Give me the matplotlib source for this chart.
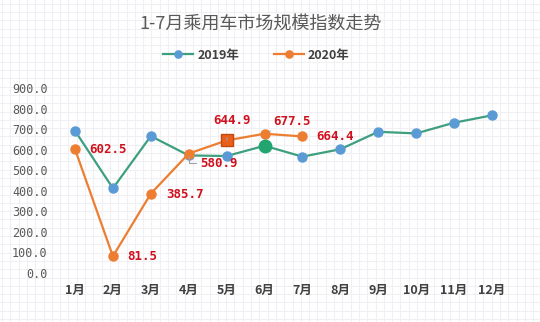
import numpy as np
import matplotlib.pyplot as plt

plt.rcParams['font.family'] = ['Noto Sans CJK SC', 'DejaVu Sans']

months = ["1月", "2月", "3月", "4月", "5月", "6月", "7月", "8月", "9月", "10月", "11月", "12月"]
idx_2019 = [692, 412, 666, 572, 569, 619, 566, 602, 687, 679, 731, 767]
idx_2020 = [602.5, 81.5, 385.7, 580.9, 644.9, 677.5, 664.4]
y_ticks = [0, 100, 200, 300, 400, 500, 600, 700, 800, 900]

green = "#3E9F7F"
blue = "#5B9BD5"
orange = "#ED7D31"
red = "#D0101C"

fig = plt.figure(figsize=(5.4, 3.22), dpi=100)

# graph-paper background
bg = fig.add_axes([0, 0, 1, 1], zorder=-1)
bg.set_xlim(0, 540)
bg.set_ylim(0, 322)
for gx in np.arange(2, 540, 8.3):
    bg.axvline(gx, color="#f0f0f4", lw=0.8)
for gy in np.arange(3, 322, 8.3):
    bg.axhline(gy, color="#f0f0f4", lw=0.8)
bg.axis("off")

ax = fig.add_axes([37.1 / 540, 49 / 322, 492.7 / 540, 185 / 322])
ax.patch.set_alpha(0)
x19 = np.arange(1, len(idx_2019) + 1)
x20 = np.arange(1, len(idx_2020) + 1)

l19, = ax.plot(x19, idx_2019, color=green, lw=1.6, marker="o", ms=6.5,
               mfc=blue, mec=blue, label="2019年", zorder=3)
l20, = ax.plot(x20, idx_2020, color=orange, lw=1.6, marker="o", ms=6.5,
               mfc=orange, mec=orange, label="2020年", zorder=4)

# highlighted points
ax.plot(x19[5], idx_2019[5], marker="o", ms=9, color="#22A56E", zorder=5)
ax.plot(x20[4], idx_2020[4], marker="s", ms=8, mfc="#E8601C", mec="#C04A10", zorder=5)

ax.set_xlim(0, 13)
ax.set_ylim(0, 900)
ax.set_xticks(x19)
ax.set_xticklabels(months, fontsize=9, fontweight="bold", color="#404040")
ax.set_yticks(y_ticks)
ax.set_yticklabels([f"{v:.1f}" for v in y_ticks], fontsize=8.5,
                   family="DejaVu Sans Mono", color="#595959")
ax.tick_params(axis="y", length=0, pad=-7.5)
ax.tick_params(axis="x", length=0, pad=8)
for s in ax.spines.values():
    s.set_visible(False)

# data labels (offsets in points)
lab = dict(fontsize=9, family="DejaVu Sans Mono", fontweight="bold", color=red,
           textcoords="offset points", zorder=6)
k = 0.72
ax.annotate(f"{idx_2020[0]:.1f}", (x20[0], idx_2020[0]), xytext=(14 * k, 0), ha="left", va="center", **lab)
ax.annotate(f"{idx_2020[1]:.1f}", (x20[1], idx_2020[1]), xytext=(14 * k, 0), ha="left", va="center", **lab)
ax.annotate(f"{idx_2020[2]:.1f}", (x20[2], idx_2020[2]), xytext=(15 * k, -1 * k), ha="left", va="center", **lab)
ax.annotate(f"{idx_2020[3]:.1f}", (x20[3], idx_2020[3]), xytext=(11 * k, -9.5 * k), ha="left", va="center",
            arrowprops=dict(arrowstyle="-", color="#a0a0a0", lw=0.8, shrinkA=1, shrinkB=2,
                            connectionstyle="angle,angleA=0,angleB=90,rad=0"), **lab)
ax.annotate(f"{idx_2020[4]:.1f}", (x20[4], idx_2020[4]), xytext=(5 * k, 20 * k), ha="center", va="center",
            arrowprops=dict(arrowstyle="-", color="#a0a0a0", lw=0.8, shrinkA=6, shrinkB=5), **lab)
ax.annotate(f"{idx_2020[5]:.1f}", (x20[5], idx_2020[5]), xytext=(27 * k, 12 * k), ha="center", va="center",
            arrowprops=dict(arrowstyle="-", color="#a0b0a8", lw=0.8, shrinkA=8, shrinkB=4), **lab)
ax.annotate(f"{idx_2020[6]:.1f}", (x20[6], idx_2020[6]), xytext=(14 * k, -0.5 * k), ha="left", va="center", **lab)

fig.text(0.483, 1 - 24 / 322, "1-7月乘用车市场规模指数走势", ha="center", va="center",
         fontsize=13, color="#595959")

fig.legend(handles=[l19, l20], loc="center", bbox_to_anchor=(0.475, 1 - 55 / 322), ncol=2,
           frameon=False, handlelength=2.4, handletextpad=0.3, columnspacing=2.8, markerscale=0.8,
           prop=dict(size=9, weight="bold"), labelcolor="#404040")

fig.savefig("out.png", dpi=100)
